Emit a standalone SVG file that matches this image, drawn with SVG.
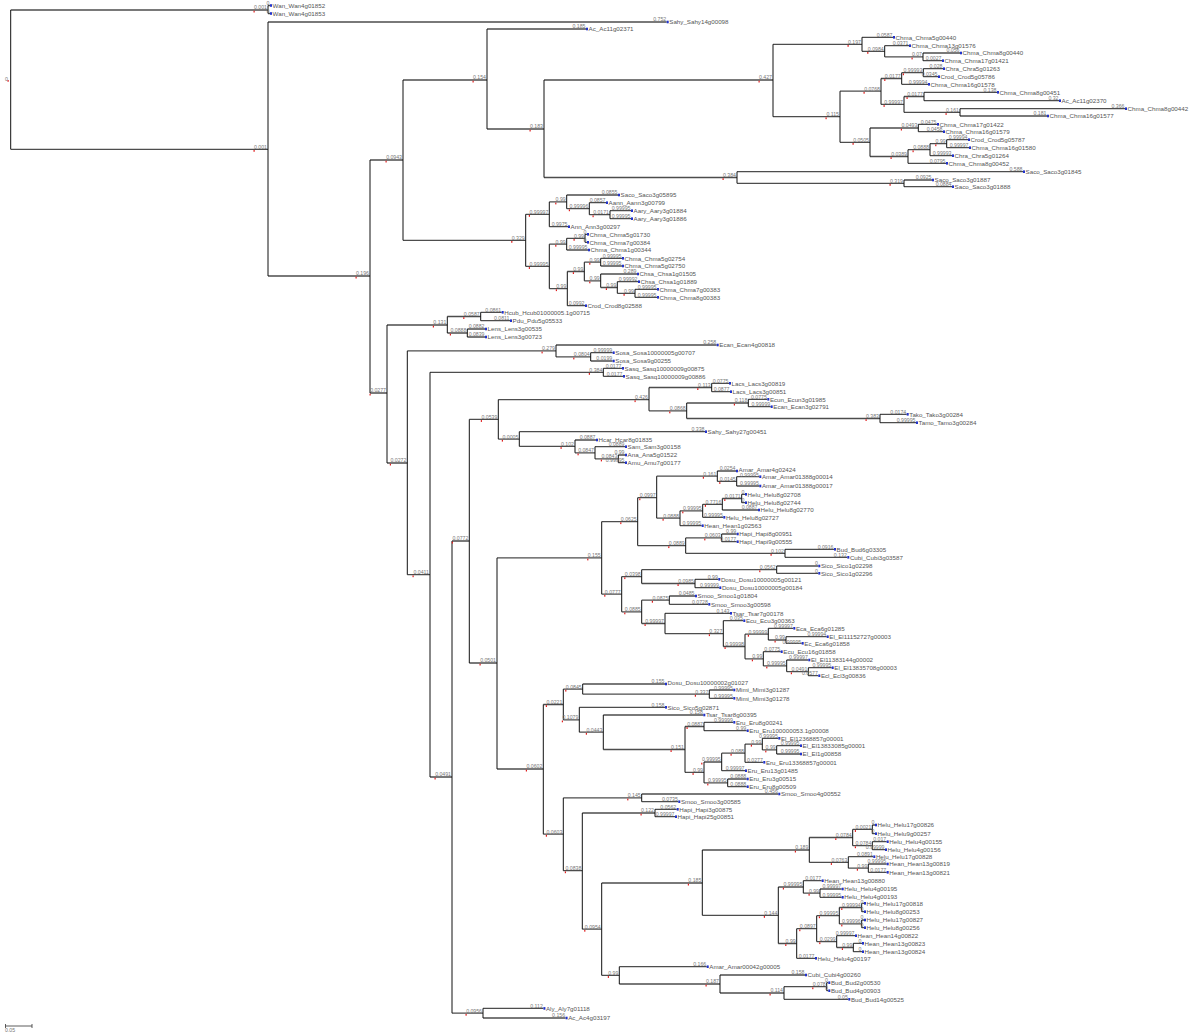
<svg xmlns="http://www.w3.org/2000/svg" width="1200" height="1032" viewBox="0 0 1200 1032">
<style>
.h{fill:none;stroke:#4d4d4d;stroke-width:1.3}
.v{fill:none;stroke:#111;stroke-width:1}
.n{font-family:"Liberation Sans",Arial,sans-serif;font-size:6.2px;fill:#555}
.b{font-family:"Liberation Sans",Arial,sans-serif;font-size:5.2px;fill:#777;text-anchor:end}
.mk{fill:#2233cc}
.rt{fill:#e02020}
</style>
<defs><rect id="m" class="mk" x="0" y="-1.3" width="2" height="2.6"/></defs>
<rect width="1200" height="1032" fill="#fff"/>
<g id="connectors">
<path class="h" d="M10.7 10H268 M10.7 149.3H268 M268 276H370 M370 160H403 M370 393H387 M403 80H487 M403 240.3H525.7 M487 129H544 M544 80H773 M544 177.5H737 M773 44.3H862 M773 116.7H840 M862 51.3H884.7 M884.7 56.9H923 M840 91.2H881 M840 142.3H870 M881 78.5H901.7 M881 104.4H904 M901.7 72.7H923.3 M904 96.5H924 M904 112.4H960 M870 128H918.3 M870 156.5H908 M908 149.7H930 M930 143.7H946.7 M737 183.3H904
M525.7 214.3H549.3 M525.7 266.4H549.3 M549.3 201.9H566.7 M566.7 208.7H589.3 M589.3 214.7H610 M549.3 244.2H566.7 M549.3 288.6H567.3 M566.7 238.3H585 M567.3 271.5H584.3 M584.3 262.2H600.7 M584.3 280.8H600.7 M600.7 287.5H617.3 M617.3 293.3H635
M387 325H447.3 M387 463H407.3 M447.3 316.5H480.7 M447.3 333H467.3 M407.3 350.9H556 M407.3 574.7H430 M556 356.9H590.7 M430 372.3H603.3 M430 777H452 M452 541H469.3 M452 1013.2H483 M469.3 419.4H498.3 M469.3 663H497 M498.3 399.6H649 M498.3 439.1H519.3 M649 387.5H711.7 M649 410.8H686.7 M686.7 403H748.3 M686.7 418.5H880 M519.3 446.4H575 M575 452.8H595 M595 458.9H618.3
M497 557.9H601.7 M497 769H543.3 M601.7 521.6H637.7 M601.7 594.2H621.7 M637.7 497.7H656.7 M637.7 545.6H685.7 M656.7 476.2H717.3 M656.7 518.2H680 M717.3 481.4H736.7 M680 510.8H702.7 M702.7 504.3H722.3 M722.3 498.5H741.7 M685.7 537.9H721.7 M685.7 553.3H785 M621.7 576.6H641.7 M621.7 611.8H641.7 M641.7 569.7H776.7 M641.7 583.5H695 M641.7 600.2H669.3 M641.7 623.5H665 M665 633.6H723.3 M723.3 646.5H745 M745 634.2H768.3 M745 658.8H763.3 M768.3 640H786 M763.3 665.9H786.7 M786.7 671.7H808.3
M543.3 704.5H563.3 M543.3 834.2H563.3 M563.3 689.1H582.7 M563.3 719.8H579.3 M582.7 694.2H709.3 M579.3 732.2H603.3 M603.3 749.5H685 M685 726.5H704 M685 772.4H704 M704 762H721.7 M704 782.9H727.7 M721.7 753.2H745 M745 744.1H762.3 M762.3 749.9H776.7
M563.3 797.9H641.7 M563.3 870.7H582.3 M582.3 813H655 M582.3 929.2H601.7 M601.7 883H702.3 M601.7 975.4H619.3 M702.3 850H809.3 M702.3 915.3H778.3 M809.3 837.5H852.7 M809.3 862.4H848.3 M852.7 829.4H872.3 M852.7 845.7H872.3 M848.3 868.2H868.3 M778.3 887H803.3 M778.3 943.5H796.7 M803.3 893.2H820 M796.7 928.7H816.7 M816.7 915.7H839.3 M816.7 941.6H836.7 M839.3 907.5H861.7 M839.3 923.9H861.7 M836.7 947.5H853.3 M619.3 984H720 M720 993H784 M784 986.7H826.7
M268 5.5H270 M268 13.5H270 M268 22H666.7 M487 29H586 M862 37.3H893 M884.7 45.7H909 M923 53H960 M923 60.7H942 M923.3 68.7H943 M923.3 76.7H938 M901.7 84.3H928 M924 92.3H997 M924 100.7H1059 M960 108.7H1125 M960 116H1047 M918.3 124.3H937 M918.3 131.7H943 M946.7 139.7H968 M946.7 147.7H969 M930 155.7H952 M908 163.3H946 M737 171.7H1023 M904 180H932 M904 186.7H952
M566.7 195H618 M589.3 202.7H606 M610 210.7H631 M610 218.7H631 M549.3 226.7H568 M585 234.3H587 M585 242.3H587 M566.7 250H588 M600.7 258.3H622 M600.7 266H622 M600.7 274H637 M617.3 281.7H638 M635 289.3H657 M635 297.3H657 M567.3 305.7H585
M480.7 312.3H501.7 M480.7 320.7H510 M467.3 329H485 M467.3 337H485 M556 345H716.7 M590.7 352.7H612.7 M590.7 361H612.7 M603.3 368.3H622 M603.3 376.3H623 M711.7 383.3H729 M711.7 391.7H730 M748.3 399.3H767.3 M748.3 406.7H770.7 M880 414.3H906.7 M880 422.7H916 M519.3 431.7H705 M575 440H596 M595 446.7H625 M618.3 455H625 M618.3 462.7H625
M717.3 471H736 M736.7 476.7H759.3 M736.7 486H759.3 M741.7 494.3H745 M741.7 502.7H745 M722.3 510H758 M702.7 517.3H723.3 M680 525.7H701.7 M721.7 534H736.7 M721.7 541.7H736.7 M785 549.3H834 M785 557.3H847.3 M776.7 566H818.3 M776.7 573.3H818.3 M695 579.3H718.3 M695 587.7H719.3 M669.3 596H695 M669.3 604.3H708.3 M665 613.3H730 M723.3 620.7H743.3 M768.3 628.3H793.3 M786 636.7H826.7 M786 643.3H801.7 M763.3 651.7H780.7 M786.7 660H808.3 M808.3 667.7H831.7 M808.3 675.7H818.3
M582.7 684H665 M709.3 690H733.3 M709.3 698.3H733.3 M579.3 707.3H665 M603.3 715H703.3 M704 722.3H733.3 M704 730.7H746.7 M762.3 738.3H778.3 M776.7 745.7H800 M776.7 754H800 M745 762.3H763.3 M721.7 770.7H745 M727.7 779H746.7 M727.7 786.7H746.7
M641.7 794H778.3 M641.7 801.7H678.3 M655 809.3H676.7 M655 816.7H675 M872.3 825H875 M872.3 833.7H875 M872.3 841.7H886.7 M872.3 849.7H885 M848.3 856.7H873.3 M868.3 864H886.7 M868.3 872.3H886.7 M803.3 880.7H821.7 M820 889H841.7 M820 897.3H841.7 M861.7 903.3H864 M861.7 911.7H864 M861.7 920H864 M861.7 927.7H864 M836.7 935.7H855 M853.3 943.3H862 M853.3 951.7H862 M796.7 958.3H815 M619.3 966.7H706.7 M720 975H805 M826.7 982.7H828.3 M826.7 990.7H828.3 M784 999.3H848.3 M483 1008.4H543.4 M483 1018H565.6"/>
<path class="v" d="M10.7 10V149.3 M268 5.5V13.5 M268 22V276 M370 160V393 M403 80V240.3 M487 29V129 M544 80V177.5 M773 44.3V116.7 M862 37.3V51.3 M884.7 45.7V56.9 M923 53V60.7 M840 91.2V142.3 M881 78.5V104.4 M901.7 72.7V84.3 M923.3 68.7V76.7 M904 96.5V112.4 M924 92.3V100.7 M960 108.7V116 M870 128V156.5 M918.3 124.3V131.7 M908 149.7V163.3 M930 143.7V155.7 M946.7 139.7V147.7 M737 171.7V183.3 M904 180V186.7
M525.7 214.3V266.4 M549.3 201.9V226.7 M566.7 195V208.7 M589.3 202.7V214.7 M610 210.7V218.7 M549.3 244.2V288.6 M566.7 238.3V250 M585 234.3V242.3 M567.3 271.5V305.7 M584.3 262.2V280.8 M600.7 258.3V266 M600.7 274V287.5 M617.3 281.7V293.3 M635 289.3V297.3
M387 325V463 M447.3 316.5V333 M480.7 312.3V320.7 M467.3 329V337 M407.3 350.9V574.7 M556 345V356.9 M590.7 352.7V361 M430 372.3V777 M603.3 368.3V376.3 M452 541V1013.2 M483 1008.4V1018 M469.3 419.4V663 M498.3 399.6V439.1 M649 387.5V410.8 M711.7 383.3V391.7 M686.7 403V418.5 M748.3 399.3V406.7 M880 414.3V422.7 M519.3 431.7V446.4 M575 440V452.8 M595 446.7V458.9 M618.3 455V462.7
M497 557.9V769 M601.7 521.6V594.2 M637.7 497.7V545.6 M656.7 476.2V518.2 M717.3 471V481.4 M736.7 476.7V486 M680 510.8V525.7 M702.7 504.3V517.3 M722.3 498.5V510 M741.7 494.3V502.7 M685.7 537.9V553.3 M721.7 534V541.7 M785 549.3V557.3 M621.7 576.6V611.8 M641.7 569.7V583.5 M776.7 566V573.3 M695 579.3V587.7 M641.7 600.2V623.5 M669.3 596V604.3 M665 613.3V633.6 M723.3 620.7V646.5 M745 634.2V658.8 M768.3 628.3V640 M786 636.7V643.3 M763.3 651.7V665.9 M786.7 660V671.7 M808.3 667.7V675.7
M543.3 704.5V834.2 M563.3 689.1V719.8 M582.7 684V694.2 M709.3 690V698.3 M579.3 707.3V732.2 M603.3 715V749.5 M685 726.5V772.4 M704 722.3V730.7 M704 762V782.9 M721.7 753.2V770.7 M745 744.1V762.3 M762.3 738.3V749.9 M776.7 745.7V754 M727.7 779V786.7
M563.3 797.9V870.7 M641.7 794V801.7 M582.3 813V929.2 M655 809.3V816.7 M601.7 883V975.4 M702.3 850V915.3 M809.3 837.5V862.4 M852.7 829.4V845.7 M872.3 825V833.7 M872.3 841.7V849.7 M848.3 856.7V868.2 M868.3 864V872.3 M778.3 887V943.5 M803.3 880.7V893.2 M820 889V897.3 M796.7 928.7V958.3 M816.7 915.7V941.6 M839.3 907.5V923.9 M861.7 903.3V911.7 M861.7 920V927.7 M836.7 935.7V947.5 M853.3 943.3V951.7 M619.3 966.7V984 M720 975V993 M784 986.7V999.3 M826.7 982.7V990.7"/>
</g>
<g id="internal-nodes">
<g id="root"><text class="b" x="8" y="81">0</text><rect class="rt" x="7.5" y="80" width="1.2" height="1.8"/></g>
<g id="n1" transform="translate(268 10)"><text class="b" x="-1" y="-0.6">0.001</text><rect class="rt" x="-14.5" y="0.7" width="1.2" height="1.8"/></g>
<g id="n2" transform="translate(268 149.3)"><text class="b" x="-1" y="-0.6">0.001</text><rect class="rt" x="-14.5" y="0.7" width="1.2" height="1.8"/></g>
<g id="n3" transform="translate(370 276)"><text class="b" x="-1" y="-0.6">0.196</text><rect class="rt" x="-14.5" y="0.7" width="1.2" height="1.8"/></g>
<g id="n4" transform="translate(403 160)"><text class="b" x="-1" y="-0.6">0.0943</text><rect class="rt" x="-17.5" y="0.7" width="1.2" height="1.8"/></g>
<g id="n5" transform="translate(387 393)"><text class="b" x="-1" y="-0.6">0.0277</text><rect class="rt" x="-17.5" y="0.7" width="1.2" height="1.8"/></g>
<g id="n6" transform="translate(487 80)"><text class="b" x="-1" y="-0.6">0.154</text><rect class="rt" x="-14.5" y="0.7" width="1.2" height="1.8"/></g>
<g id="n7" transform="translate(525.7 240.3)"><text class="b" x="-1" y="-0.6">0.329</text><rect class="rt" x="-14.5" y="0.7" width="1.2" height="1.8"/></g>
<g id="n8" transform="translate(544 129)"><text class="b" x="-1" y="-0.6">0.183</text><rect class="rt" x="-14.5" y="0.7" width="1.2" height="1.8"/></g>
<g id="n9" transform="translate(773 80)"><text class="b" x="-1" y="-0.6">0.427</text><rect class="rt" x="-14.5" y="0.7" width="1.2" height="1.8"/></g>
<g id="n10" transform="translate(737 177.5)"><text class="b" x="-1" y="-0.6">0.384</text><rect class="rt" x="-14.5" y="0.7" width="1.2" height="1.8"/></g>
<g id="n11" transform="translate(862 44.3)"><text class="b" x="-1" y="-0.6">0.197</text><rect class="rt" x="-14.5" y="0.7" width="1.2" height="1.8"/></g>
<g id="n12" transform="translate(840 116.7)"><text class="b" x="-1" y="-0.6">0.115</text><rect class="rt" x="-14.5" y="0.7" width="1.2" height="1.8"/></g>
<g id="n13" transform="translate(884.7 51.3)"><text class="b" x="-1" y="-0.6">0.0984</text><rect class="rt" x="-17.5" y="0.7" width="1.2" height="1.8"/></g>
<g id="n14" transform="translate(923 56.9)"><text class="b" x="-1" y="-0.6">0.07</text><rect class="rt" x="-11.5" y="0.7" width="1.2" height="1.8"/></g>
<g id="n15" transform="translate(881 91.2)"><text class="b" x="-1" y="-0.6">0.0768</text><rect class="rt" x="-17.5" y="0.7" width="1.2" height="1.8"/></g>
<g id="n16" transform="translate(870 142.3)"><text class="b" x="-1" y="-0.6">0.0505</text><rect class="rt" x="-17.5" y="0.7" width="1.2" height="1.8"/></g>
<g id="n17" transform="translate(901.7 78.5)"><text class="b" x="-1" y="-0.6">0.0177</text><rect class="rt" x="-17.5" y="0.7" width="1.2" height="1.8"/></g>
<g id="n18" transform="translate(904 104.4)"><text class="b" x="-1" y="-0.6">0.99997</text><rect class="rt" x="-20.5" y="0.7" width="1.2" height="1.8"/></g>
<g id="n19" transform="translate(923.3 72.7)"><text class="b" x="-1" y="-0.6">0.99993</text><rect class="rt" x="-20.5" y="0.7" width="1.2" height="1.8"/></g>
<g id="n20" transform="translate(924 96.5)"><text class="b" x="-1" y="-0.6">0.0177</text><rect class="rt" x="-17.5" y="0.7" width="1.2" height="1.8"/></g>
<g id="n21" transform="translate(960 112.4)"><text class="b" x="-1" y="-0.6">0.161</text><rect class="rt" x="-14.5" y="0.7" width="1.2" height="1.8"/></g>
<g id="n22" transform="translate(918.3 128)"><text class="b" x="-1" y="-0.6">0.0493</text><rect class="rt" x="-17.5" y="0.7" width="1.2" height="1.8"/></g>
<g id="n23" transform="translate(908 156.5)"><text class="b" x="-1" y="-0.6">0.0389</text><rect class="rt" x="-17.5" y="0.7" width="1.2" height="1.8"/></g>
<g id="n24" transform="translate(930 149.7)"><text class="b" x="-1" y="-0.6">0.0888</text><rect class="rt" x="-17.5" y="0.7" width="1.2" height="1.8"/></g>
<g id="n25" transform="translate(946.7 143.7)"><text class="b" x="-1" y="-0.6">0.99</text><rect class="rt" x="-11.5" y="0.7" width="1.2" height="1.8"/></g>
<g id="n26" transform="translate(904 183.3)"><text class="b" x="-1" y="-0.6">0.319</text><rect class="rt" x="-14.5" y="0.7" width="1.2" height="1.8"/></g>
<g id="n27" transform="translate(549.3 214.3)"><text class="b" x="-1" y="-0.6">0.99997</text><rect class="rt" x="-20.5" y="0.7" width="1.2" height="1.8"/></g>
<g id="n28" transform="translate(549.3 266.4)"><text class="b" x="-1" y="-0.6">0.99995</text><rect class="rt" x="-20.5" y="0.7" width="1.2" height="1.8"/></g>
<g id="n29" transform="translate(566.7 201.9)"><text class="b" x="-1" y="-0.6">0.99</text><rect class="rt" x="-11.5" y="0.7" width="1.2" height="1.8"/></g>
<g id="n30" transform="translate(589.3 208.7)"><text class="b" x="-1" y="-0.6">0.99996</text><rect class="rt" x="-20.5" y="0.7" width="1.2" height="1.8"/></g>
<g id="n31" transform="translate(610 214.7)"><text class="b" x="-1" y="-0.6">0.0171</text><rect class="rt" x="-17.5" y="0.7" width="1.2" height="1.8"/></g>
<g id="n32" transform="translate(566.7 244.2)"><text class="b" x="-1" y="-0.6">0.99</text><rect class="rt" x="-11.5" y="0.7" width="1.2" height="1.8"/></g>
<g id="n33" transform="translate(567.3 288.6)"><text class="b" x="-1" y="-0.6">0.99</text><rect class="rt" x="-11.5" y="0.7" width="1.2" height="1.8"/></g>
<g id="n34" transform="translate(585 238.3)"><text class="b" x="-1" y="-0.6">0.99</text><rect class="rt" x="-11.5" y="0.7" width="1.2" height="1.8"/></g>
<g id="n35" transform="translate(584.3 271.5)"><text class="b" x="-1" y="-0.6">0.99</text><rect class="rt" x="-11.5" y="0.7" width="1.2" height="1.8"/></g>
<g id="n36" transform="translate(600.7 262.2)"><text class="b" x="-1" y="-0.6">0.99</text><rect class="rt" x="-11.5" y="0.7" width="1.2" height="1.8"/></g>
<g id="n37" transform="translate(600.7 280.8)"><text class="b" x="-1" y="-0.6">0.99</text><rect class="rt" x="-11.5" y="0.7" width="1.2" height="1.8"/></g>
<g id="n38" transform="translate(617.3 287.5)"><text class="b" x="-1" y="-0.6">0.99</text><rect class="rt" x="-11.5" y="0.7" width="1.2" height="1.8"/></g>
<g id="n39" transform="translate(635 293.3)"><text class="b" x="-1" y="-0.6">0.99</text><rect class="rt" x="-11.5" y="0.7" width="1.2" height="1.8"/></g>
<g id="n40" transform="translate(447.3 325)"><text class="b" x="-1" y="-0.6">0.131</text><rect class="rt" x="-14.5" y="0.7" width="1.2" height="1.8"/></g>
<g id="n41" transform="translate(407.3 463)"><text class="b" x="-1" y="-0.6">0.0272</text><rect class="rt" x="-17.5" y="0.7" width="1.2" height="1.8"/></g>
<g id="n42" transform="translate(480.7 316.5)"><text class="b" x="-1" y="-0.6">0.0587</text><rect class="rt" x="-17.5" y="0.7" width="1.2" height="1.8"/></g>
<g id="n43" transform="translate(467.3 333)"><text class="b" x="-1" y="-0.6">0.0888</text><rect class="rt" x="-17.5" y="0.7" width="1.2" height="1.8"/></g>
<g id="n44" transform="translate(556 350.9)"><text class="b" x="-1" y="-0.6">0.279</text><rect class="rt" x="-14.5" y="0.7" width="1.2" height="1.8"/></g>
<g id="n45" transform="translate(430 574.7)"><text class="b" x="-1" y="-0.6">0.0411</text><rect class="rt" x="-17.5" y="0.7" width="1.2" height="1.8"/></g>
<g id="n46" transform="translate(590.7 356.9)"><text class="b" x="-1" y="-0.6">0.0804</text><rect class="rt" x="-17.5" y="0.7" width="1.2" height="1.8"/></g>
<g id="n47" transform="translate(603.3 372.3)"><text class="b" x="-1" y="-0.6">0.384</text><rect class="rt" x="-14.5" y="0.7" width="1.2" height="1.8"/></g>
<g id="n48" transform="translate(452 777)"><text class="b" x="-1" y="-0.6">0.0491</text><rect class="rt" x="-17.5" y="0.7" width="1.2" height="1.8"/></g>
<g id="n49" transform="translate(469.3 541)"><text class="b" x="-1" y="-0.6">0.0772</text><rect class="rt" x="-17.5" y="0.7" width="1.2" height="1.8"/></g>
<g id="n50" transform="translate(483 1013.2)"><text class="b" x="-1" y="-0.6">0.0956</text><rect class="rt" x="-17.5" y="0.7" width="1.2" height="1.8"/></g>
<g id="n51" transform="translate(498.3 419.4)"><text class="b" x="-1" y="-0.6">0.0539</text><rect class="rt" x="-17.5" y="0.7" width="1.2" height="1.8"/></g>
<g id="n52" transform="translate(497 663)"><text class="b" x="-1" y="-0.6">0.0501</text><rect class="rt" x="-17.5" y="0.7" width="1.2" height="1.8"/></g>
<g id="n53" transform="translate(649 399.6)"><text class="b" x="-1" y="-0.6">0.426</text><rect class="rt" x="-14.5" y="0.7" width="1.2" height="1.8"/></g>
<g id="n54" transform="translate(519.3 439.1)"><text class="b" x="-1" y="-0.6">0.0005</text><rect class="rt" x="-17.5" y="0.7" width="1.2" height="1.8"/></g>
<g id="n55" transform="translate(711.7 387.5)"><text class="b" x="-1" y="-0.6">0.113</text><rect class="rt" x="-14.5" y="0.7" width="1.2" height="1.8"/></g>
<g id="n56" transform="translate(686.7 410.8)"><text class="b" x="-1" y="-0.6">0.0868</text><rect class="rt" x="-17.5" y="0.7" width="1.2" height="1.8"/></g>
<g id="n57" transform="translate(748.3 403)"><text class="b" x="-1" y="-0.6">0.118</text><rect class="rt" x="-14.5" y="0.7" width="1.2" height="1.8"/></g>
<g id="n58" transform="translate(880 418.5)"><text class="b" x="-1" y="-0.6">0.383</text><rect class="rt" x="-14.5" y="0.7" width="1.2" height="1.8"/></g>
<g id="n59" transform="translate(575 446.4)"><text class="b" x="-1" y="-0.6">0.102</text><rect class="rt" x="-14.5" y="0.7" width="1.2" height="1.8"/></g>
<g id="n60" transform="translate(595 452.8)"><text class="b" x="-1" y="-0.6">0.0847</text><rect class="rt" x="-17.5" y="0.7" width="1.2" height="1.8"/></g>
<g id="n61" transform="translate(618.3 458.9)"><text class="b" x="-1" y="-0.6">0.0843</text><rect class="rt" x="-17.5" y="0.7" width="1.2" height="1.8"/></g>
<g id="n62" transform="translate(601.7 557.9)"><text class="b" x="-1" y="-0.6">0.155</text><rect class="rt" x="-14.5" y="0.7" width="1.2" height="1.8"/></g>
<g id="n63" transform="translate(543.3 769)"><text class="b" x="-1" y="-0.6">0.0602</text><rect class="rt" x="-17.5" y="0.7" width="1.2" height="1.8"/></g>
<g id="n64" transform="translate(637.7 521.6)"><text class="b" x="-1" y="-0.6">0.0625</text><rect class="rt" x="-17.5" y="0.7" width="1.2" height="1.8"/></g>
<g id="n65" transform="translate(621.7 594.2)"><text class="b" x="-1" y="-0.6">0.0777</text><rect class="rt" x="-17.5" y="0.7" width="1.2" height="1.8"/></g>
<g id="n66" transform="translate(656.7 497.7)"><text class="b" x="-1" y="-0.6">0.0997</text><rect class="rt" x="-17.5" y="0.7" width="1.2" height="1.8"/></g>
<g id="n67" transform="translate(685.7 545.6)"><text class="b" x="-1" y="-0.6">0.0889</text><rect class="rt" x="-17.5" y="0.7" width="1.2" height="1.8"/></g>
<g id="n68" transform="translate(717.3 476.2)"><text class="b" x="-1" y="-0.6">0.161</text><rect class="rt" x="-14.5" y="0.7" width="1.2" height="1.8"/></g>
<g id="n69" transform="translate(680 518.2)"><text class="b" x="-1" y="-0.6">0.0888</text><rect class="rt" x="-17.5" y="0.7" width="1.2" height="1.8"/></g>
<g id="n70" transform="translate(736.7 481.4)"><text class="b" x="-1" y="-0.6">0.0145</text><rect class="rt" x="-17.5" y="0.7" width="1.2" height="1.8"/></g>
<g id="n71" transform="translate(702.7 510.8)"><text class="b" x="-1" y="-0.6">0.99995</text><rect class="rt" x="-20.5" y="0.7" width="1.2" height="1.8"/></g>
<g id="n72" transform="translate(722.3 504.3)"><text class="b" x="-1" y="-0.6">0.7716</text><rect class="rt" x="-17.5" y="0.7" width="1.2" height="1.8"/></g>
<g id="n73" transform="translate(741.7 498.5)"><text class="b" x="-1" y="-0.6">0.0171</text><rect class="rt" x="-17.5" y="0.7" width="1.2" height="1.8"/></g>
<g id="n74" transform="translate(721.7 537.9)"><text class="b" x="-1" y="-0.6">0.0603</text><rect class="rt" x="-17.5" y="0.7" width="1.2" height="1.8"/></g>
<g id="n75" transform="translate(785 553.3)"><text class="b" x="-1" y="-0.6">0.102</text><rect class="rt" x="-14.5" y="0.7" width="1.2" height="1.8"/></g>
<g id="n76" transform="translate(641.7 576.6)"><text class="b" x="-1" y="-0.6">0.0398</text><rect class="rt" x="-17.5" y="0.7" width="1.2" height="1.8"/></g>
<g id="n77" transform="translate(641.7 611.8)"><text class="b" x="-1" y="-0.6">0.0885</text><rect class="rt" x="-17.5" y="0.7" width="1.2" height="1.8"/></g>
<g id="n78" transform="translate(776.7 569.7)"><text class="b" x="-1" y="-0.6">0.0562</text><rect class="rt" x="-17.5" y="0.7" width="1.2" height="1.8"/></g>
<g id="n79" transform="translate(695 583.5)"><text class="b" x="-1" y="-0.6">0.0985</text><rect class="rt" x="-17.5" y="0.7" width="1.2" height="1.8"/></g>
<g id="n80" transform="translate(669.3 600.2)"><text class="b" x="-1" y="-0.6">0.0875</text><rect class="rt" x="-17.5" y="0.7" width="1.2" height="1.8"/></g>
<g id="n81" transform="translate(665 623.5)"><text class="b" x="-1" y="-0.6">0.99997</text><rect class="rt" x="-20.5" y="0.7" width="1.2" height="1.8"/></g>
<g id="n82" transform="translate(723.3 633.6)"><text class="b" x="-1" y="-0.6">0.327</text><rect class="rt" x="-14.5" y="0.7" width="1.2" height="1.8"/></g>
<g id="n83" transform="translate(745 646.5)"><text class="b" x="-1" y="-0.6">0.99998</text><rect class="rt" x="-20.5" y="0.7" width="1.2" height="1.8"/></g>
<g id="n84" transform="translate(768.3 634.2)"><text class="b" x="-1" y="-0.6">0.99999</text><rect class="rt" x="-20.5" y="0.7" width="1.2" height="1.8"/></g>
<g id="n85" transform="translate(763.3 658.8)"><text class="b" x="-1" y="-0.6">0.99</text><rect class="rt" x="-11.5" y="0.7" width="1.2" height="1.8"/></g>
<g id="n86" transform="translate(786 640)"><text class="b" x="-1" y="-1.3">0.99</text><rect class="rt" x="-11.5" y="0.7" width="1.2" height="1.8"/></g>
<g id="n87" transform="translate(786.7 665.9)"><text class="b" x="-1" y="-0.6">0.99995</text><rect class="rt" x="-20.5" y="0.7" width="1.2" height="1.8"/></g>
<g id="n88" transform="translate(808.3 671.7)"><text class="b" x="-1" y="-0.6">0.0491</text><rect class="rt" x="-17.5" y="0.7" width="1.2" height="1.8"/></g>
<g id="n89" transform="translate(563.3 704.5)"><text class="b" x="-1" y="-0.6">0.0221</text><rect class="rt" x="-17.5" y="0.7" width="1.2" height="1.8"/></g>
<g id="n90" transform="translate(563.3 834.2)"><text class="b" x="-1" y="-0.6">0.0603</text><rect class="rt" x="-17.5" y="0.7" width="1.2" height="1.8"/></g>
<g id="n91" transform="translate(582.7 689.1)"><text class="b" x="-1" y="-0.6">0.0845</text><rect class="rt" x="-17.5" y="0.7" width="1.2" height="1.8"/></g>
<g id="n92" transform="translate(579.3 719.8)"><text class="b" x="-1" y="-0.6">0.1079</text><rect class="rt" x="-17.5" y="0.7" width="1.2" height="1.8"/></g>
<g id="n93" transform="translate(709.3 694.2)"><text class="b" x="-1" y="-0.1">0.337</text><rect class="rt" x="-14.5" y="0.7" width="1.2" height="1.8"/></g>
<g id="n94" transform="translate(603.3 732.2)"><text class="b" x="-1" y="-0.6">0.0443</text><rect class="rt" x="-17.5" y="0.7" width="1.2" height="1.8"/></g>
<g id="n95" transform="translate(685 749.5)"><text class="b" x="-1" y="-0.6">0.151</text><rect class="rt" x="-14.5" y="0.7" width="1.2" height="1.8"/></g>
<g id="n96" transform="translate(704 726.5)"><text class="b" x="-1" y="-0.6">0.0887</text><rect class="rt" x="-17.5" y="0.7" width="1.2" height="1.8"/></g>
<g id="n97" transform="translate(704 772.4)"><text class="b" x="-1" y="-0.6">0.99</text><rect class="rt" x="-11.5" y="0.7" width="1.2" height="1.8"/></g>
<g id="n98" transform="translate(721.7 762)"><text class="b" x="-1" y="-0.6">0.99995</text><rect class="rt" x="-20.5" y="0.7" width="1.2" height="1.8"/></g>
<g id="n99" transform="translate(727.7 782.9)"><text class="b" x="-1" y="-0.6">0.99995</text><rect class="rt" x="-20.5" y="0.7" width="1.2" height="1.8"/></g>
<g id="n100" transform="translate(745 753.2)"><text class="b" x="-1" y="-0.6">0.088</text><rect class="rt" x="-14.5" y="0.7" width="1.2" height="1.8"/></g>
<g id="n101" transform="translate(762.3 744.1)"><text class="b" x="-1" y="-0.6">0.99</text><rect class="rt" x="-11.5" y="0.7" width="1.2" height="1.8"/></g>
<g id="n102" transform="translate(776.7 749.9)"><text class="b" x="-1" y="-0.6">0.99</text><rect class="rt" x="-11.5" y="0.7" width="1.2" height="1.8"/></g>
<g id="n103" transform="translate(641.7 797.9)"><text class="b" x="-1" y="-0.6">0.145</text><rect class="rt" x="-14.5" y="0.7" width="1.2" height="1.8"/></g>
<g id="n104" transform="translate(582.3 870.7)"><text class="b" x="-1" y="-0.6">0.0838</text><rect class="rt" x="-17.5" y="0.7" width="1.2" height="1.8"/></g>
<g id="n105" transform="translate(655 813)"><text class="b" x="-1" y="-0.6">0.122</text><rect class="rt" x="-14.5" y="0.7" width="1.2" height="1.8"/></g>
<g id="n106" transform="translate(601.7 929.2)"><text class="b" x="-1" y="-0.6">0.0954</text><rect class="rt" x="-17.5" y="0.7" width="1.2" height="1.8"/></g>
<g id="n107" transform="translate(702.3 883)"><text class="b" x="-1" y="-0.6">0.185</text><rect class="rt" x="-14.5" y="0.7" width="1.2" height="1.8"/></g>
<g id="n108" transform="translate(619.3 975.4)"><text class="b" x="-1" y="-0.6">0.99</text><rect class="rt" x="-11.5" y="0.7" width="1.2" height="1.8"/></g>
<g id="n109" transform="translate(809.3 850)"><text class="b" x="-1" y="-0.6">0.189</text><rect class="rt" x="-14.5" y="0.7" width="1.2" height="1.8"/></g>
<g id="n110" transform="translate(778.3 915.3)"><text class="b" x="-1" y="-0.6">0.144</text><rect class="rt" x="-14.5" y="0.7" width="1.2" height="1.8"/></g>
<g id="n111" transform="translate(852.7 837.5)"><text class="b" x="-1" y="-0.6">0.0784</text><rect class="rt" x="-17.5" y="0.7" width="1.2" height="1.8"/></g>
<g id="n112" transform="translate(848.3 862.4)"><text class="b" x="-1" y="-0.6">0.0763</text><rect class="rt" x="-17.5" y="0.7" width="1.2" height="1.8"/></g>
<g id="n113" transform="translate(872.3 829.4)"><text class="b" x="-1" y="-0.6">0.0021</text><rect class="rt" x="-17.5" y="0.7" width="1.2" height="1.8"/></g>
<g id="n114" transform="translate(872.3 845.7)"><text class="b" x="-1" y="-0.6">0.0784</text><rect class="rt" x="-17.5" y="0.7" width="1.2" height="1.8"/></g>
<g id="n115" transform="translate(868.3 868.2)"><text class="b" x="-1" y="-0.6">0.99</text><rect class="rt" x="-11.5" y="0.7" width="1.2" height="1.8"/></g>
<g id="n116" transform="translate(803.3 887)"><text class="b" x="-1" y="-0.6">0.99995</text><rect class="rt" x="-20.5" y="0.7" width="1.2" height="1.8"/></g>
<g id="n117" transform="translate(796.7 943.5)"><text class="b" x="-1" y="-0.6">0.99</text><rect class="rt" x="-11.5" y="0.7" width="1.2" height="1.8"/></g>
<g id="n118" transform="translate(820 893.2)"><text class="b" x="-1" y="-0.6">0.99</text><rect class="rt" x="-11.5" y="0.7" width="1.2" height="1.8"/></g>
<g id="n119" transform="translate(816.7 928.7)"><text class="b" x="-1" y="-0.6">0.0897</text><rect class="rt" x="-17.5" y="0.7" width="1.2" height="1.8"/></g>
<g id="n120" transform="translate(839.3 915.7)"><text class="b" x="-1" y="-0.6">0.99995</text><rect class="rt" x="-20.5" y="0.7" width="1.2" height="1.8"/></g>
<g id="n121" transform="translate(836.7 941.6)"><text class="b" x="-1" y="-0.6">0.0299</text><rect class="rt" x="-17.5" y="0.7" width="1.2" height="1.8"/></g>
<g id="n122" transform="translate(861.7 907.5)"><text class="b" x="-1" y="-0.6">0.99994</text><rect class="rt" x="-20.5" y="0.7" width="1.2" height="1.8"/></g>
<g id="n123" transform="translate(861.7 923.9)"><text class="b" x="-1" y="-0.6">0.99996</text><rect class="rt" x="-20.5" y="0.7" width="1.2" height="1.8"/></g>
<g id="n124" transform="translate(853.3 947.5)"><text class="b" x="-1" y="-0.6">0.99</text><rect class="rt" x="-11.5" y="0.7" width="1.2" height="1.8"/></g>
<g id="n125" transform="translate(720 984)"><text class="b" x="-1" y="-0.6">0.187</text><rect class="rt" x="-14.5" y="0.7" width="1.2" height="1.8"/></g>
<g id="n126" transform="translate(784 993)"><text class="b" x="-1" y="-0.6">0.114</text><rect class="rt" x="-14.5" y="0.7" width="1.2" height="1.8"/></g>
<g id="n127" transform="translate(826.7 986.7)"><text class="b" x="-1" y="-0.6">0.078</text><rect class="rt" x="-14.5" y="0.7" width="1.2" height="1.8"/></g>
</g>
<g id="leaves">
<g id="t1" transform="translate(270 5.5)"><use href="#m"/><text class="b" x="-0.5" y="-0.6">0</text><text class="n" x="2.6" y="2.2">Wan_Wan4g01852</text></g>
<g id="t2" transform="translate(270 13.5)"><use href="#m"/><text class="b" x="-0.5" y="-0.6">0</text><text class="n" x="2.6" y="2.2">Wan_Wan4g01853</text></g>
<g id="t3" transform="translate(666.7 22)"><use href="#m"/><text class="b" x="-0.5" y="-0.6">0.752</text><text class="n" x="2.6" y="2.2">Sahy_Sahy14g00098</text></g>
<g id="t4" transform="translate(586 29)"><use href="#m"/><text class="b" x="-0.5" y="-0.6">0.185</text><text class="n" x="2.6" y="2.2">Ac_Ac11g02371</text></g>
<g id="t5" transform="translate(893 37.3)"><use href="#m"/><text class="b" x="-0.5" y="-0.6">0.0587</text><text class="n" x="2.6" y="2.2">Chma_Chma5g00440</text></g>
<g id="t6" transform="translate(909 45.7)"><use href="#m"/><text class="b" x="-0.5" y="-0.6">0.0371</text><text class="n" x="2.6" y="2.2">Chma_Chma13g01576</text></g>
<g id="t7" transform="translate(960 53)"><use href="#m"/><text class="b" x="-0.5" y="-0.6">0.056</text><text class="n" x="2.6" y="2.2">Chma_Chma8g00440</text></g>
<g id="t8" transform="translate(942 60.7)"><use href="#m"/><text class="b" x="-0.5" y="-0.6">0.0027</text><text class="n" x="2.6" y="2.2">Chma_Chma17g01421</text></g>
<g id="t9" transform="translate(943 68.7)"><use href="#m"/><text class="b" x="-0.5" y="-0.6">0.028</text><text class="n" x="2.6" y="2.2">Chra_Chra5g01263</text></g>
<g id="t10" transform="translate(938 76.7)"><use href="#m"/><text class="b" x="-0.5" y="-0.6">0.0345</text><text class="n" x="2.6" y="2.2">Crod_Crod5g05786</text></g>
<g id="t11" transform="translate(928 84.3)"><use href="#m"/><text class="b" x="-0.5" y="-0.6">0.99994</text><text class="n" x="2.6" y="2.2">Chma_Chma16g01578</text></g>
<g id="t12" transform="translate(997 92.3)"><use href="#m"/><text class="b" x="-0.5" y="-0.6">0.138</text><text class="n" x="2.6" y="2.2">Chma_Chma8g00451</text></g>
<g id="t13" transform="translate(1059 100.7)"><use href="#m"/><text class="b" x="-0.5" y="-0.6">0.32</text><text class="n" x="2.6" y="2.2">Ac_Ac11g02370</text></g>
<g id="t14" transform="translate(1125 108.7)"><use href="#m"/><text class="b" x="-0.5" y="-0.6">0.366</text><text class="n" x="2.6" y="2.2">Chma_Chma8g00442</text></g>
<g id="t15" transform="translate(1047 116)"><use href="#m"/><text class="b" x="-0.5" y="-0.6">0.181</text><text class="n" x="2.6" y="2.2">Chma_Chma16g01577</text></g>
<g id="t16" transform="translate(937 124.3)"><use href="#m"/><text class="b" x="-0.5" y="-0.6">0.0475</text><text class="n" x="2.6" y="2.2">Chma_Chma17g01422</text></g>
<g id="t17" transform="translate(943 131.7)"><use href="#m"/><text class="b" x="-0.5" y="-0.6">0.0458</text><text class="n" x="2.6" y="2.2">Chma_Chma16g01579</text></g>
<g id="t18" transform="translate(968 139.7)"><use href="#m"/><text class="b" x="-0.5" y="-0.6">0.99994</text><text class="n" x="2.6" y="2.2">Crod_Crod5g05787</text></g>
<g id="t19" transform="translate(969 147.7)"><use href="#m"/><text class="b" x="-0.5" y="-0.6">0.99997</text><text class="n" x="2.6" y="2.2">Chma_Chma16g01580</text></g>
<g id="t20" transform="translate(952 155.7)"><use href="#m"/><text class="b" x="-0.5" y="-0.6">0.99993</text><text class="n" x="2.6" y="2.2">Chra_Chra5g01264</text></g>
<g id="t21" transform="translate(946 163.3)"><use href="#m"/><text class="b" x="-0.5" y="-0.6">0.0795</text><text class="n" x="2.6" y="2.2">Chma_Chma8g00452</text></g>
<g id="t22" transform="translate(1023 171.7)"><use href="#m"/><text class="b" x="-0.5" y="-0.6">0.588</text><text class="n" x="2.6" y="2.2">Saco_Saco3g01845</text></g>
<g id="t23" transform="translate(932 180)"><use href="#m"/><text class="b" x="-0.5" y="-0.6">0.0925</text><text class="n" x="2.6" y="2.2">Saco_Saco3g01887</text></g>
<g id="t24" transform="translate(952 186.7)"><use href="#m"/><text class="b" x="-0.5" y="-0.6">0.0884</text><text class="n" x="2.6" y="2.2">Saco_Saco3g01888</text></g>
<g id="t25" transform="translate(618 195)"><use href="#m"/><text class="b" x="-0.5" y="-0.6">0.0855</text><text class="n" x="2.6" y="2.2">Saco_Saco3g05895</text></g>
<g id="t26" transform="translate(606 202.7)"><use href="#m"/><text class="b" x="-0.5" y="-0.6">0.0857</text><text class="n" x="2.6" y="2.2">Aann_Aann3g00799</text></g>
<g id="t27" transform="translate(631 210.7)"><use href="#m"/><text class="b" x="-0.5" y="-0.6">0.99995</text><text class="n" x="2.6" y="2.2">Aary_Aary3g01884</text></g>
<g id="t28" transform="translate(631 218.7)"><use href="#m"/><text class="b" x="-0.5" y="-0.6">0.99995</text><text class="n" x="2.6" y="2.2">Aary_Aary3g01886</text></g>
<g id="t29" transform="translate(568 226.7)"><use href="#m"/><text class="b" x="-0.5" y="-0.6">0.9975</text><text class="n" x="2.6" y="2.2">Ann_Ann3g00297</text></g>
<g id="t30" transform="translate(587 234.3)"><use href="#m"/><text class="b" x="-0.5" y="-0.6">0</text><text class="n" x="2.6" y="2.2">Chma_Chma5g01730</text></g>
<g id="t31" transform="translate(587 242.3)"><use href="#m"/><text class="b" x="-0.5" y="-0.6">0</text><text class="n" x="2.6" y="2.2">Chma_Chma7g00384</text></g>
<g id="t32" transform="translate(588 250)"><use href="#m"/><text class="b" x="-0.5" y="-0.6">0.99995</text><text class="n" x="2.6" y="2.2">Chma_Chma1g00344</text></g>
<g id="t33" transform="translate(622 258.3)"><use href="#m"/><text class="b" x="-0.5" y="-0.6">0.99995</text><text class="n" x="2.6" y="2.2">Chma_Chma5g02754</text></g>
<g id="t34" transform="translate(622 266)"><use href="#m"/><text class="b" x="-0.5" y="-0.6">0.99995</text><text class="n" x="2.6" y="2.2">Chma_Chma5g02750</text></g>
<g id="t35" transform="translate(637 274)"><use href="#m"/><text class="b" x="-0.5" y="-0.6">0.289</text><text class="n" x="2.6" y="2.2">Chsa_Chsa1g01505</text></g>
<g id="t36" transform="translate(638 281.7)"><use href="#m"/><text class="b" x="-0.5" y="-0.6">0.99992</text><text class="n" x="2.6" y="2.2">Chsa_Chsa1g01889</text></g>
<g id="t37" transform="translate(657 289.3)"><use href="#m"/><text class="b" x="-0.5" y="-0.6">0.99995</text><text class="n" x="2.6" y="2.2">Chma_Chma7g00383</text></g>
<g id="t38" transform="translate(657 297.3)"><use href="#m"/><text class="b" x="-0.5" y="-0.6">0.99995</text><text class="n" x="2.6" y="2.2">Chma_Chma8g00383</text></g>
<g id="t39" transform="translate(585 305.7)"><use href="#m"/><text class="b" x="-0.5" y="-0.6">0.0992</text><text class="n" x="2.6" y="2.2">Crod_Crod8g02588</text></g>
<g id="t40" transform="translate(501.7 312.3)"><use href="#m"/><text class="b" x="-0.5" y="-0.6">0.0861</text><text class="n" x="2.6" y="2.2">Hcub_Hcub01000005.1g00715</text></g>
<g id="t41" transform="translate(510 320.7)"><use href="#m"/><text class="b" x="-0.5" y="-0.6">0.0811</text><text class="n" x="2.6" y="2.2">Pdu_Pdu5g05533</text></g>
<g id="t42" transform="translate(485 329)"><use href="#m"/><text class="b" x="-0.5" y="-0.6">0.0882</text><text class="n" x="2.6" y="2.2">Lens_Lens3g00535</text></g>
<g id="t43" transform="translate(485 337)"><use href="#m"/><text class="b" x="-0.5" y="-0.6">0.0839</text><text class="n" x="2.6" y="2.2">Lens_Lens3g00723</text></g>
<g id="t44" transform="translate(716.7 345)"><use href="#m"/><text class="b" x="-0.5" y="-0.6">0.258</text><text class="n" x="2.6" y="2.2">Ecan_Ecan4g00818</text></g>
<g id="t45" transform="translate(612.7 352.7)"><use href="#m"/><text class="b" x="-0.5" y="-0.6">0.99999</text><text class="n" x="2.6" y="2.2">Sosa_Sosa10000005g00707</text></g>
<g id="t46" transform="translate(612.7 361)"><use href="#m"/><text class="b" x="-0.5" y="-0.6">0.0199</text><text class="n" x="2.6" y="2.2">Sosa_Sosa9g00255</text></g>
<g id="t47" transform="translate(622 368.3)"><use href="#m"/><text class="b" x="-0.5" y="-0.6">0.0177</text><text class="n" x="2.6" y="2.2">Sasq_Sasq10000009g00875</text></g>
<g id="t48" transform="translate(623 376.3)"><use href="#m"/><text class="b" x="-0.5" y="-0.6">0.0177</text><text class="n" x="2.6" y="2.2">Sasq_Sasq10000009g00886</text></g>
<g id="t49" transform="translate(729 383.3)"><use href="#m"/><text class="b" x="-0.5" y="-0.6">0.0775</text><text class="n" x="2.6" y="2.2">Lacs_Lacs3g00819</text></g>
<g id="t50" transform="translate(730 391.7)"><use href="#m"/><text class="b" x="-0.5" y="-0.6">0.0877</text><text class="n" x="2.6" y="2.2">Lacs_Lacs3g00851</text></g>
<g id="t51" transform="translate(767.3 399.3)"><use href="#m"/><text class="b" x="-0.5" y="-0.6">0.0775</text><text class="n" x="2.6" y="2.2">Ecun_Ecun3g01985</text></g>
<g id="t52" transform="translate(770.7 406.7)"><use href="#m"/><text class="b" x="-0.5" y="-0.6">0.99999</text><text class="n" x="2.6" y="2.2">Ecan_Ecan3g02791</text></g>
<g id="t53" transform="translate(906.7 414.3)"><use href="#m"/><text class="b" x="-0.5" y="-0.6">0.0174</text><text class="n" x="2.6" y="2.2">Tako_Tako3g00284</text></g>
<g id="t54" transform="translate(916 422.7)"><use href="#m"/><text class="b" x="-0.5" y="-0.6">0.99995</text><text class="n" x="2.6" y="2.2">Tamo_Tamo3g00284</text></g>
<g id="t55" transform="translate(705 431.7)"><use href="#m"/><text class="b" x="-0.5" y="-0.6">0.338</text><text class="n" x="2.6" y="2.2">Sahy_Sahy27g00451</text></g>
<g id="t56" transform="translate(596 440)"><use href="#m"/><text class="b" x="-0.5" y="-0.6">0.0887</text><text class="n" x="2.6" y="2.2">Hcar_Hcar8g01835</text></g>
<g id="t57" transform="translate(625 446.7)"><use href="#m"/><text class="b" x="-0.5" y="-0.6">0.0889</text><text class="n" x="2.6" y="2.2">Sam_Sam3g00158</text></g>
<g id="t58" transform="translate(625 455)"><use href="#m"/><text class="b" x="-0.5" y="-0.6">0.99</text><text class="n" x="2.6" y="2.2">Ana_Ana5g01522</text></g>
<g id="t59" transform="translate(625 462.7)"><use href="#m"/><text class="b" x="-0.5" y="-0.6">0.99995</text><text class="n" x="2.6" y="2.2">Amu_Amu7g00177</text></g>
<g id="t60" transform="translate(736 471)"><use href="#m"/><text class="b" x="-0.5" y="-0.6">0.0254</text><text class="n" x="2.6" y="1.3">Amar_Amar4g02424</text></g>
<g id="t61" transform="translate(759.3 476.7)"><use href="#m"/><text class="b" x="-0.5" y="0.2">0.99995</text><text class="n" x="2.6" y="2.2">Amar_Amar01388g00014</text></g>
<g id="t62" transform="translate(759.3 486)"><use href="#m"/><text class="b" x="-0.5" y="-0.6">0.99995</text><text class="n" x="2.6" y="2.2">Amar_Amar01388g00017</text></g>
<g id="t63" transform="translate(745 494.3)"><use href="#m"/><text class="b" x="-0.5" y="-0.6">0</text><text class="n" x="2.6" y="2.2">Helu_Helu8g02708</text></g>
<g id="t64" transform="translate(745 502.7)"><use href="#m"/><text class="b" x="-0.5" y="-0.6">0</text><text class="n" x="2.6" y="2.2">Helu_Helu8g02744</text></g>
<g id="t65" transform="translate(758 510)"><use href="#m"/><text class="b" x="-0.5" y="-0.6">0.0887</text><text class="n" x="2.6" y="2.2">Helu_Helu8g02770</text></g>
<g id="t66" transform="translate(723.3 517.3)"><use href="#m"/><text class="b" x="-0.5" y="-0.6">0.99995</text><text class="n" x="2.6" y="2.2">Helu_Helu8g02727</text></g>
<g id="t67" transform="translate(701.7 525.7)"><use href="#m"/><text class="b" x="-0.5" y="-0.6">0.99995</text><text class="n" x="2.6" y="2.2">Hean_Hean1g02563</text></g>
<g id="t68" transform="translate(736.7 534)"><use href="#m"/><text class="b" x="-0.5" y="-0.6">0.99</text><text class="n" x="2.6" y="2.2">Hapi_Hapi8g00951</text></g>
<g id="t69" transform="translate(736.7 541.7)"><use href="#m"/><text class="b" x="-0.5" y="-0.6">0.0177</text><text class="n" x="2.6" y="2.2">Hapi_Hapi9g00555</text></g>
<g id="t70" transform="translate(834 549.3)"><use href="#m"/><text class="b" x="-0.5" y="-0.6">0.0916</text><text class="n" x="2.6" y="2.2">Bud_Bud6g03305</text></g>
<g id="t71" transform="translate(847.3 557.3)"><use href="#m"/><text class="b" x="-0.5" y="-0.6">0.132</text><text class="n" x="2.6" y="2.2">Cubi_Cubi3g03587</text></g>
<g id="t72" transform="translate(818.3 566)"><use href="#m"/><text class="b" x="-0.5" y="-0.6">0</text><text class="n" x="2.6" y="2.2">Sico_Sico1g02298</text></g>
<g id="t73" transform="translate(818.3 573.3)"><use href="#m"/><text class="b" x="-0.5" y="-0.6">0</text><text class="n" x="2.6" y="2.2">Sico_Sico1g02296</text></g>
<g id="t74" transform="translate(718.3 579.3)"><use href="#m"/><text class="b" x="-0.5" y="-0.6">0.99</text><text class="n" x="2.6" y="2.2">Dosu_Dosu10000005g00121</text></g>
<g id="t75" transform="translate(719.3 587.7)"><use href="#m"/><text class="b" x="-0.5" y="-0.6">0.99999</text><text class="n" x="2.6" y="2.2">Dosu_Dosu10000005g00184</text></g>
<g id="t76" transform="translate(695 596)"><use href="#m"/><text class="b" x="-0.5" y="-0.6">0.0485</text><text class="n" x="2.6" y="2.2">Smoo_Smoo1g01804</text></g>
<g id="t77" transform="translate(708.3 604.3)"><use href="#m"/><text class="b" x="-0.5" y="-0.6">0.0728</text><text class="n" x="2.6" y="2.2">Smoo_Smoo3g00598</text></g>
<g id="t78" transform="translate(730 613.3)"><use href="#m"/><text class="b" x="-0.5" y="-0.6">0.143</text><text class="n" x="2.6" y="2.2">Tsar_Tsar7g00178</text></g>
<g id="t79" transform="translate(743.3 620.7)"><use href="#m"/><text class="b" x="-0.5" y="-0.6">0.035</text><text class="n" x="2.6" y="2.2">Ecu_Ecu3g00363</text></g>
<g id="t80" transform="translate(793.3 628.3)"><use href="#m"/><text class="b" x="-0.5" y="-0.6">0.99997</text><text class="n" x="2.6" y="2.2">Eca_Eca6g01285</text></g>
<g id="t81" transform="translate(826.7 636.7)"><use href="#m"/><text class="b" x="-0.5" y="-0.6">0.99994</text><text class="n" x="2.6" y="2.2">El_El11152727g00003</text></g>
<g id="t82" transform="translate(801.7 643.3)"><use href="#m"/><text class="b" x="-0.5" y="0.3">0.99995</text><text class="n" x="2.6" y="2.2">Ec_Eca6g01858</text></g>
<g id="t83" transform="translate(780.7 651.7)"><use href="#m"/><text class="b" x="-0.5" y="-0.6">0.0775</text><text class="n" x="2.6" y="2.2">Ecu_Ecu16g01858</text></g>
<g id="t84" transform="translate(808.3 660)"><use href="#m"/><text class="b" x="-0.5" y="-0.6">0.99997</text><text class="n" x="2.6" y="2.2">El_El11383144g00002</text></g>
<g id="t85" transform="translate(831.7 667.7)"><use href="#m"/><text class="b" x="-0.5" y="-0.6">0.99995</text><text class="n" x="2.6" y="2.2">El_El13835708g00003</text></g>
<g id="t86" transform="translate(818.3 675.7)"><use href="#m"/><text class="b" x="-0.5" y="-0.6">0.0577</text><text class="n" x="2.6" y="2.2">Ecl_Ecl3g00836</text></g>
<g id="t87" transform="translate(665 684)"><use href="#m"/><text class="b" x="-0.5" y="-0.6">0.155</text><text class="n" x="2.6" y="1.3">Dosu_Dosu10000002g01027</text></g>
<g id="t88" transform="translate(733.3 690)"><use href="#m"/><text class="b" x="-0.5" y="0.2">0.99995</text><text class="n" x="2.6" y="2.2">Mimi_Mimi3g01287</text></g>
<g id="t89" transform="translate(733.3 698.3)"><use href="#m"/><text class="b" x="-0.5" y="-0.6">0.99995</text><text class="n" x="2.6" y="2.2">Mimi_Mimi3g01278</text></g>
<g id="t90" transform="translate(665 707.3)"><use href="#m"/><text class="b" x="-0.5" y="-0.6">0.158</text><text class="n" x="2.6" y="2.2">Sico_Sico5g02871</text></g>
<g id="t91" transform="translate(703.3 715)"><use href="#m"/><text class="b" x="-0.5" y="-0.6">0.158</text><text class="n" x="2.6" y="2.2">Tsar_Tsar8g00395</text></g>
<g id="t92" transform="translate(733.3 722.3)"><use href="#m"/><text class="b" x="-0.5" y="-0.6">0.99999</text><text class="n" x="2.6" y="2.2">Eru_Eru8g00241</text></g>
<g id="t93" transform="translate(746.7 730.7)"><use href="#m"/><text class="b" x="-0.5" y="-0.6">0.99</text><text class="n" x="2.6" y="2.2">Eru_Eru100000053.1g00008</text></g>
<g id="t94" transform="translate(778.3 738.3)"><use href="#m"/><text class="b" x="-0.5" y="-0.6">0.99995</text><text class="n" x="2.6" y="2.2">El_El12368857g00001</text></g>
<g id="t95" transform="translate(800 745.7)"><use href="#m"/><text class="b" x="-0.5" y="-0.6">0.99995</text><text class="n" x="2.6" y="2.2">El_El13833085g00001</text></g>
<g id="t96" transform="translate(800 754)"><use href="#m"/><text class="b" x="-0.5" y="-0.6">0.99995</text><text class="n" x="2.6" y="2.2">El_El1g00858</text></g>
<g id="t97" transform="translate(763.3 762.3)"><use href="#m"/><text class="b" x="-0.5" y="-0.6">0.0277</text><text class="n" x="2.6" y="2.2">Eru_Eru13368857g00001</text></g>
<g id="t98" transform="translate(745 770.7)"><use href="#m"/><text class="b" x="-0.5" y="-0.6">0.99997</text><text class="n" x="2.6" y="2.2">Eru_Eru13g01485</text></g>
<g id="t99" transform="translate(746.7 779)"><use href="#m"/><text class="b" x="-0.5" y="-0.6">0.0888</text><text class="n" x="2.6" y="2.2">Eru_Eru3g00515</text></g>
<g id="t100" transform="translate(746.7 786.7)"><use href="#m"/><text class="b" x="-0.5" y="-0.6">0.0888</text><text class="n" x="2.6" y="2.2">Eru_Eru8g00509</text></g>
<g id="t101" transform="translate(778.3 794)"><use href="#m"/><text class="b" x="-0.5" y="-0.6">0.456</text><text class="n" x="2.6" y="2.2">Smoo_Smoo4g00552</text></g>
<g id="t102" transform="translate(678.3 801.7)"><use href="#m"/><text class="b" x="-0.5" y="-0.6">0.0735</text><text class="n" x="2.6" y="2.2">Smoo_Smoo3g00585</text></g>
<g id="t103" transform="translate(676.7 809.3)"><use href="#m"/><text class="b" x="-0.5" y="-0.6">0.0562</text><text class="n" x="2.6" y="2.2">Hapi_Hapi3g00875</text></g>
<g id="t104" transform="translate(675 816.7)"><use href="#m"/><text class="b" x="-0.5" y="-0.6">0.99997</text><text class="n" x="2.6" y="2.2">Hapi_Hapi25g00851</text></g>
<g id="t105" transform="translate(875 825)"><use href="#m"/><text class="b" x="-0.5" y="-0.6">0</text><text class="n" x="2.6" y="2.2">Helu_Helu17g00826</text></g>
<g id="t106" transform="translate(875 833.7)"><use href="#m"/><text class="b" x="-0.5" y="-0.6">0</text><text class="n" x="2.6" y="2.2">Helu_Helu9g00257</text></g>
<g id="t107" transform="translate(886.7 841.7)"><use href="#m"/><text class="b" x="-0.5" y="-0.6">0.017</text><text class="n" x="2.6" y="2.2">Helu_Helu4g00155</text></g>
<g id="t108" transform="translate(885 849.7)"><use href="#m"/><text class="b" x="-0.5" y="-0.6">0.99999</text><text class="n" x="2.6" y="2.2">Helu_Helu4g00156</text></g>
<g id="t109" transform="translate(873.3 856.7)"><use href="#m"/><text class="b" x="-0.5" y="-0.6">0.0891</text><text class="n" x="2.6" y="2.2">Helu_Helu17g00828</text></g>
<g id="t110" transform="translate(886.7 864)"><use href="#m"/><text class="b" x="-0.5" y="-0.6">0.99995</text><text class="n" x="2.6" y="2.2">Hean_Hean13g00819</text></g>
<g id="t111" transform="translate(886.7 872.3)"><use href="#m"/><text class="b" x="-0.5" y="-0.6">0.0177</text><text class="n" x="2.6" y="2.2">Hean_Hean13g00821</text></g>
<g id="t112" transform="translate(821.7 880.7)"><use href="#m"/><text class="b" x="-0.5" y="-0.6">0.0177</text><text class="n" x="2.6" y="2.2">Hean_Hean13g00880</text></g>
<g id="t113" transform="translate(841.7 889)"><use href="#m"/><text class="b" x="-0.5" y="-0.6">0.99997</text><text class="n" x="2.6" y="2.2">Helu_Helu4g00195</text></g>
<g id="t114" transform="translate(841.7 897.3)"><use href="#m"/><text class="b" x="-0.5" y="-0.6">0.99995</text><text class="n" x="2.6" y="1.3">Helu_Helu4g00193</text></g>
<g id="t115" transform="translate(864 903.3)"><use href="#m"/><text class="b" x="-0.5" y="0.2">0</text><text class="n" x="2.6" y="2.2">Helu_Helu17g00818</text></g>
<g id="t116" transform="translate(864 911.7)"><use href="#m"/><text class="b" x="-0.5" y="-0.6">0</text><text class="n" x="2.6" y="2.2">Helu_Helu8g00253</text></g>
<g id="t117" transform="translate(864 920)"><use href="#m"/><text class="b" x="-0.5" y="-0.6">0</text><text class="n" x="2.6" y="2.2">Helu_Helu17g00827</text></g>
<g id="t118" transform="translate(864 927.7)"><use href="#m"/><text class="b" x="-0.5" y="-0.6">0</text><text class="n" x="2.6" y="2.2">Helu_Helu8g00256</text></g>
<g id="t119" transform="translate(855 935.7)"><use href="#m"/><text class="b" x="-0.5" y="-0.6">0.99997</text><text class="n" x="2.6" y="2.2">Hean_Hean14g00822</text></g>
<g id="t120" transform="translate(862 943.3)"><use href="#m"/><text class="b" x="-0.5" y="-0.6">0</text><text class="n" x="2.6" y="2.2">Hean_Hean13g00823</text></g>
<g id="t121" transform="translate(862 951.7)"><use href="#m"/><text class="b" x="-0.5" y="-0.6">0</text><text class="n" x="2.6" y="2.2">Hean_Hean13g00824</text></g>
<g id="t122" transform="translate(815 958.3)"><use href="#m"/><text class="b" x="-0.5" y="-0.6">0.0177</text><text class="n" x="2.6" y="2.2">Helu_Helu4g00197</text></g>
<g id="t123" transform="translate(706.7 966.7)"><use href="#m"/><text class="b" x="-0.5" y="-0.6">0.166</text><text class="n" x="2.6" y="2.2">Amar_Amar00042g00005</text></g>
<g id="t124" transform="translate(805 975)"><use href="#m"/><text class="b" x="-0.5" y="-0.6">0.158</text><text class="n" x="2.6" y="2.2">Cubi_Cubi4g00260</text></g>
<g id="t125" transform="translate(828.3 982.7)"><use href="#m"/><text class="b" x="-0.5" y="-0.6">0</text><text class="n" x="2.6" y="2.2">Bud_Bud2g00530</text></g>
<g id="t126" transform="translate(828.3 990.7)"><use href="#m"/><text class="b" x="-0.5" y="-0.6">0</text><text class="n" x="2.6" y="2.2">Bud_Bud4g00903</text></g>
<g id="t127" transform="translate(848.3 999.3)"><use href="#m"/><text class="b" x="-0.5" y="-0.6">0.05</text><text class="n" x="2.6" y="2.2">Bud_Bud14g00525</text></g>
<g id="t128" transform="translate(543.4 1008.4)"><use href="#m"/><text class="b" x="-0.5" y="-0.6">0.112</text><text class="n" x="2.6" y="2.2">Aly_Aly7g01118</text></g>
<g id="t129" transform="translate(565.6 1018)"><use href="#m"/><text class="b" x="-0.5" y="-0.6">0.156</text><text class="n" x="2.6" y="2.2">Ac_Ac4g03197</text></g>
</g>
<g id="scale-bar">
<path d="M5.5 1026H32 M5.5 1024V1028 M32 1024V1028" fill="none" stroke="#333" stroke-width="0.8"/>
<text class="b" x="5" y="1031.5" style="text-anchor:start">0.05</text>
</g>
</svg>
